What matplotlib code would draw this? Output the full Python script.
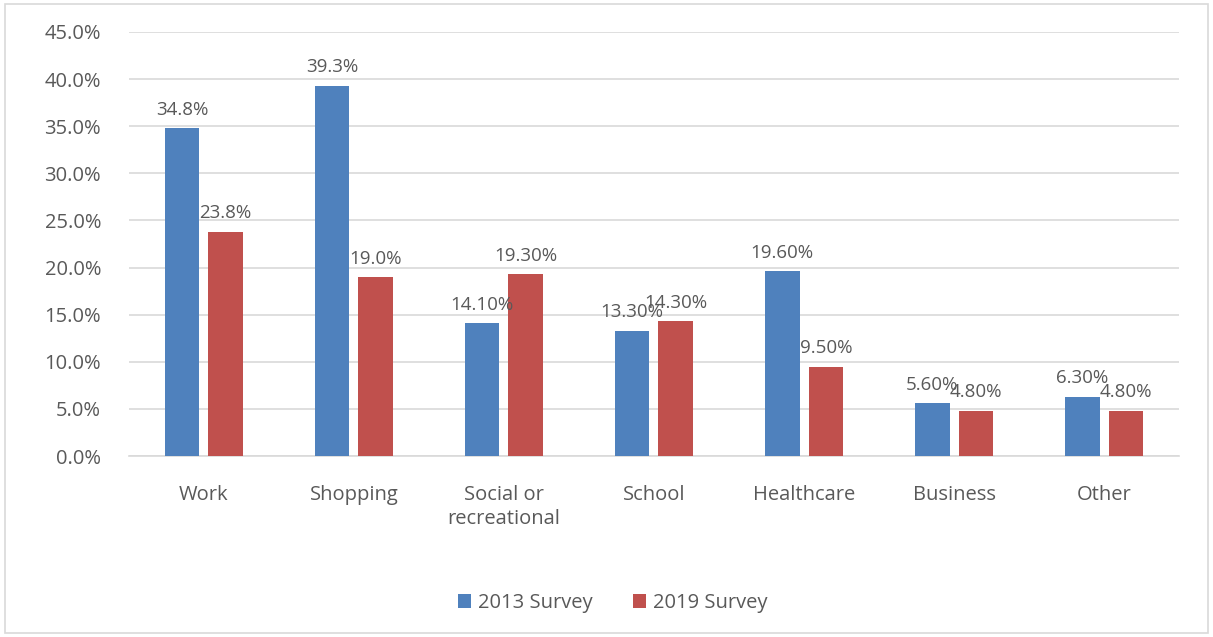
import matplotlib.pyplot as plt
import numpy as np
from matplotlib.patches import Rectangle

# data
categories = ["Work", "Shopping", "Social or\nrecreational", "School",
              "Healthcare", "Business", "Other"]
survey_2013 = [34.8, 39.3, 14.1, 13.3, 19.6, 5.6, 6.3]
survey_2019 = [23.8, 19.0, 19.3, 14.3, 9.5, 4.8, 4.8]
labels_2013 = ["34.8%", "39.3%", "14.10%", "13.30%", "19.60%", "5.60%", "6.30%"]
labels_2019 = ["23.8%", "19.0%", "19.30%", "14.30%", "9.50%", "4.80%", "4.80%"]

blue = "#4F81BD"
red = "#C0504D"
text_col = "#595959"

plt.rcParams['font.family'] = ['Open Sans', 'DejaVu Sans']

fig = plt.figure(figsize=(12.13, 6.37), dpi=100)
ax = fig.add_axes([0.1063, 0.2841, 0.8657, 0.6657])

# outer frame
fig.patches.append(Rectangle((0.004, 0.006), 0.992, 0.988, transform=fig.transFigure,
                             fill=False, edgecolor="#D9D9D9", linewidth=1.2))

x = np.arange(len(categories))
w = 0.23
off = 0.145
ax.bar(x - off, survey_2013, w, color=blue, label="2013 Survey", zorder=3)
ax.bar(x + off, survey_2019, w, color=red, label="2019 Survey", zorder=3)

for i in range(len(categories)):
    ax.text(x[i] - off, survey_2013[i] + 1.0, labels_2013[i], ha="center", va="bottom",
            fontsize=13.5, color=text_col, zorder=4)
    ax.text(x[i] + off, survey_2019[i] + 1.0, labels_2019[i], ha="center", va="bottom",
            fontsize=13.5, color=text_col, zorder=4)

ax.set_xlim(-0.5, 6.5)
ax.set_ylim(0, 45)
ax.set_yticks(np.arange(0, 46, 5))
ax.set_yticklabels([f"{v:.1f}%" for v in np.arange(0, 46, 5)])
ax.set_xticks(x)
ax.set_xticklabels(categories, linespacing=1.25)
ax.tick_params(axis="both", length=0, labelsize=14.5, colors=text_col)
ax.tick_params(axis="x", pad=21)
ax.tick_params(axis="y", pad=20)
ax.grid(axis="y", color="#D9D9D9", linewidth=1.2, zorder=0)
for s in ["top", "right", "left"]:
    ax.spines[s].set_visible(False)
ax.spines["bottom"].set_color("#D9D9D9")
ax.spines["bottom"].set_linewidth(1.2)

leg = fig.legend(loc="center", bbox_to_anchor=(0.505, 0.053), ncol=2, frameon=False,
                 fontsize=14.5, handlelength=0.65, handleheight=0.65, columnspacing=2.0,
                 handletextpad=0.35)
for t in leg.get_texts():
    t.set_color(text_col)

plt.savefig("out.png", dpi=100)
